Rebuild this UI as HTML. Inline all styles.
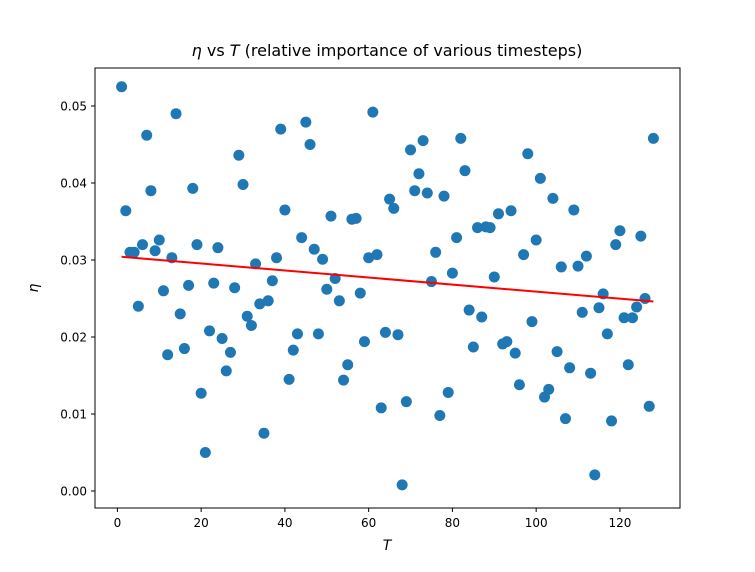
<!DOCTYPE html>
<html><head><meta charset="utf-8"><style>
body{margin:0;background:#fff}
svg text{font-family:"DejaVu Sans","Liberation Sans",sans-serif;fill:#000}
</style></head><body>
<svg id="chart" width="755" height="567" xmlns="http://www.w3.org/2000/svg">
<text x="387" y="56" font-size="16" text-anchor="middle"><tspan font-style="italic">η</tspan> vs <tspan font-style="italic">T</tspan> (relative importance of various timesteps)</text>
<g id="marks"></g>
<rect x="95" y="68" width="585" height="440" fill="none" stroke="#000" stroke-width="1"/>
<g id="xt"></g>
<g id="yt"></g>
<text x="387" y="550" font-size="14" font-style="italic" text-anchor="middle">T</text>
<text x="38" y="288" font-size="14" font-style="italic" text-anchor="middle" transform="rotate(-90 38 288)">η</text>
</svg>
<script>
const timesteps = Array.from({length:128},(_, i)=>i+1);
const etaValues = [0.0525,0.0364,0.031,0.031,0.024,0.032,0.0462,0.039,0.0312,0.0326,
0.026,0.0177,0.0303,0.049,0.023,0.0185,0.0267,0.0393,0.032,0.0127,
0.005,0.0208,0.027,0.0316,0.0198,0.0156,0.018,0.0264,0.0436,0.0398,
0.0227,0.0215,0.0295,0.0243,0.0075,0.0247,0.0273,0.0303,0.047,0.0365,
0.0145,0.0183,0.0204,0.0329,0.0479,0.045,0.0314,0.0204,0.0301,0.0262,
0.0357,0.0276,0.0247,0.0144,0.0164,0.0353,0.0354,0.0257,0.0194,0.0303,
0.0492,0.0307,0.0108,0.0206,0.0379,0.0367,0.0203,0.0008,0.0116,0.0443,
0.039,0.0412,0.0455,0.0387,0.0272,0.031,0.0098,0.0383,0.0128,0.0283,
0.0329,0.0458,0.0416,0.0235,0.0187,0.0342,0.0226,0.0343,0.0342,0.0278,
0.036,0.0191,0.0194,0.0364,0.0179,0.0138,0.0307,0.0438,0.022,0.0326,
0.0406,0.0122,0.0132,0.038,0.0181,0.0291,0.0094,0.016,0.0365,0.0292,
0.0232,0.0305,0.0153,0.0021,0.0238,0.0256,0.0204,0.0091,0.032,0.0338,
0.0225,0.0164,0.0225,0.0239,0.0331,0.025,0.011,0.0458];
const xTicks = [0,20,40,60,80,100,120];
const yTicks = [0,0.01,0.02,0.03,0.04,0.05];
const yTickLabels = ["0.00","0.01","0.02","0.03","0.04","0.05"];

const NS="http://www.w3.org/2000/svg";
const X0=95,X1=680,XMIN=-5.35,XMAX=134.35;
function xs(t){return X0+(t-XMIN)/(XMAX-XMIN)*(X1-X0);}
function ys(v){return 491-v*7700;}
function mk(tag,attrs,parent){const e=document.createElementNS(NS,tag);for(const k in attrs)e.setAttribute(k,attrs[k]);parent.appendChild(e);return e;}
const marks=document.getElementById('marks');
timesteps.forEach((t,i)=>{
  const c=mk('circle',{cx:xs(t),cy:ys(etaValues[i]),r:5.5,fill:'#1f77b4'},marks);
  
  
});
const n=timesteps.length;let sx=0,sy=0,sxx=0,sxy=0;
timesteps.forEach((t,i)=>{sx+=t;sy+=etaValues[i];sxx+=t*t;sxy+=t*etaValues[i];});
const slope=(n*sxy-sx*sy)/(n*sxx-sx*sx),icpt=(sy-slope*sx)/n;
const tA=timesteps[0],tB=timesteps[n-1];
const ln=mk('line',{x1:xs(tA),y1:ys(icpt+slope*tA),x2:xs(tB),y2:ys(icpt+slope*tB),stroke:'#ff0000','stroke-width':2},marks);


const xt=document.getElementById('xt');
xTicks.forEach(t=>{
  const l=mk('line',{x1:xs(t),x2:xs(t),y1:508,y2:512,stroke:'#000'},xt);
  
  
  const tx=mk('text',{x:xs(t),y:527,'font-size':12,'text-anchor':'middle'},xt);
  tx.textContent=t;
  
  
});
const yt=document.getElementById('yt');
yTicks.forEach((v,i)=>{
  const l=mk('line',{x1:91,x2:95,y1:ys(v),y2:ys(v),stroke:'#000'},yt);
  
  
  const tx=mk('text',{x:87,y:ys(v)+4.5,'font-size':12,'text-anchor':'end'},yt);
  tx.textContent=yTickLabels[i];
  
  
});
</script>
</body></html>
